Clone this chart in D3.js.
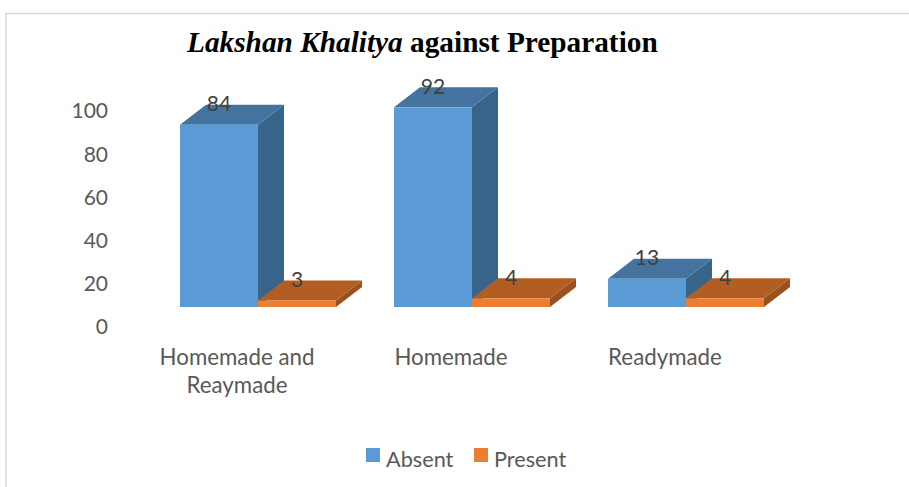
<!DOCTYPE html>
<html>
<head>
<meta charset="utf-8">
<script src="https://cdn.jsdelivr.net/npm/d3@7"></script>
<style>
html, body { margin: 0; background: #fff; }
text { font-family: Lato, sans-serif; }
</style>
</head>
<body>
<div id="chart"></div>
<script>
// values
var categories = ["Homemade and Reaymade", "Homemade", "Readymade"];
var absent = [84, 92, 13];
var present = [3, 4, 4];
var yTicks = [0, 20, 40, 60, 80, 100];

var width = 909, height = 487;
var depthX = 26, depthY = 20;

var svg = d3.select("#chart").append("svg")
    .attr("width", width)
    .attr("height", height)
    .style("display", "block");

// frame: only left and top show in the picture
svg.append("path")
    .attr("d", "M6,487V13.5H909")
    .attr("fill", "none")
    .attr("stroke", "#d9d9d9")
    .attr("stroke-width", 1.5);

// title
var title = svg.append("text")
    .attr("x", 187)
    .attr("y", 52)
    .attr("fill", "#000")
    .style("font-family", "'Liberation Serif', serif")
    .style("font-size", "29.3px")
    .style("font-weight", "bold");
title.append("tspan").style("font-style", "italic").text("Lakshan Khalitya");
title.append("tspan").text(" against Preparation");

var x = d3.scaleBand().domain(categories).range([180, 822]).paddingInner(0).paddingOuter(0);
var barW = 78;
var yAxis = d3.scaleLinear().domain([0, 100]).range([327, 111]);
// bars sit on the front of the 3d floor, one depth above the axis zero
var yBar = d3.scaleLinear().domain([0, 100]).range([307, 90]);

// axis labels
svg.append("g").selectAll("text")
    .data(yTicks)
    .enter().append("text")
    .attr("x", 108)
    .attr("y", function(d) { return yAxis(d); })
    .attr("dy", "0.35em")
    .attr("text-anchor", "end")
    .attr("fill", "#595959")
    .style("font-size", "21px")
    .text(function(d) { return d; });

var series = [
  {name: "Absent", values: absent, front: "#5b9bd5", top: "#44739f", side: "#39648a", off: 0},
  {name: "Present", values: present, front: "#ed7d31", top: "#b25d22", side: "#9a5120", off: barW}
];

function box(g, s, i) {
  var x0 = x(categories[i]) + s.off, x1 = x0 + barW;
  var v = s.values[i];
  var t = yBar(v), b = yBar(0);
  g.append("path")
      .attr("d", "M" + x1 + "," + t + "L" + (x1 + depthX) + "," + (t - depthY) + "V" + (b - depthY) + "L" + x1 + "," + b + "Z")
      .attr("fill", s.side);
  g.append("path")
      .attr("d", "M" + x0 + "," + t + "L" + (x0 + depthX) + "," + (t - depthY) + "H" + (x1 + depthX) + "L" + x1 + "," + t + "Z")
      .attr("fill", s.top);
  g.append("rect")
      .attr("x", x0)
      .attr("y", t)
      .attr("width", barW)
      .attr("height", b - t)
      .attr("fill", s.front);
}

var bars = svg.append("g");
series.forEach(function(s) {
  categories.forEach(function(c, i) { box(bars, s, i); });
});

// data labels
series.forEach(function(s) {
  svg.append("g").selectAll("text")
      .data(s.values)
      .enter().append("text")
      .attr("x", function(d, i) { return x(categories[i]) + s.off + 39; })
      .attr("y", function(d) { return yBar(d) - depthY - 1; })
      .attr("dy", "0.35em")
      .attr("text-anchor", "middle")
      .attr("fill", "#404040")
      .style("font-size", "21px")
      .text(function(d) { return d; });
});

// category labels, first one wraps on two lines
var catLines = [["Homemade and", "Reaymade"], ["Homemade"], ["Readymade"]];
catLines.forEach(function(lines, i) {
  svg.append("text")
      .attr("x", x(categories[i]) + 57)
      .attr("y", 365)
      .attr("text-anchor", "middle")
      .attr("fill", "#595959")
      .style("font-size", "22.3px")
      .selectAll("tspan")
      .data(lines)
      .enter().append("tspan")
      .attr("x", x(categories[i]) + 57)
      .attr("dy", function(d, j) { return j ? 28 : 0; })
      .text(function(d) { return d; });
});

// legend
var legendX = [366, 474];
series.forEach(function(s, i) {
  svg.append("rect")
      .attr("x", legendX[i])
      .attr("y", 448)
      .attr("width", 14)
      .attr("height", 14)
      .attr("fill", s.front);
  svg.append("text")
      .attr("x", legendX[i] + 20)
      .attr("y", 467)
      .attr("fill", "#595959")
      .style("font-size", "21.7px")
      .text(s.name);
});
</script>
</body>
</html>
